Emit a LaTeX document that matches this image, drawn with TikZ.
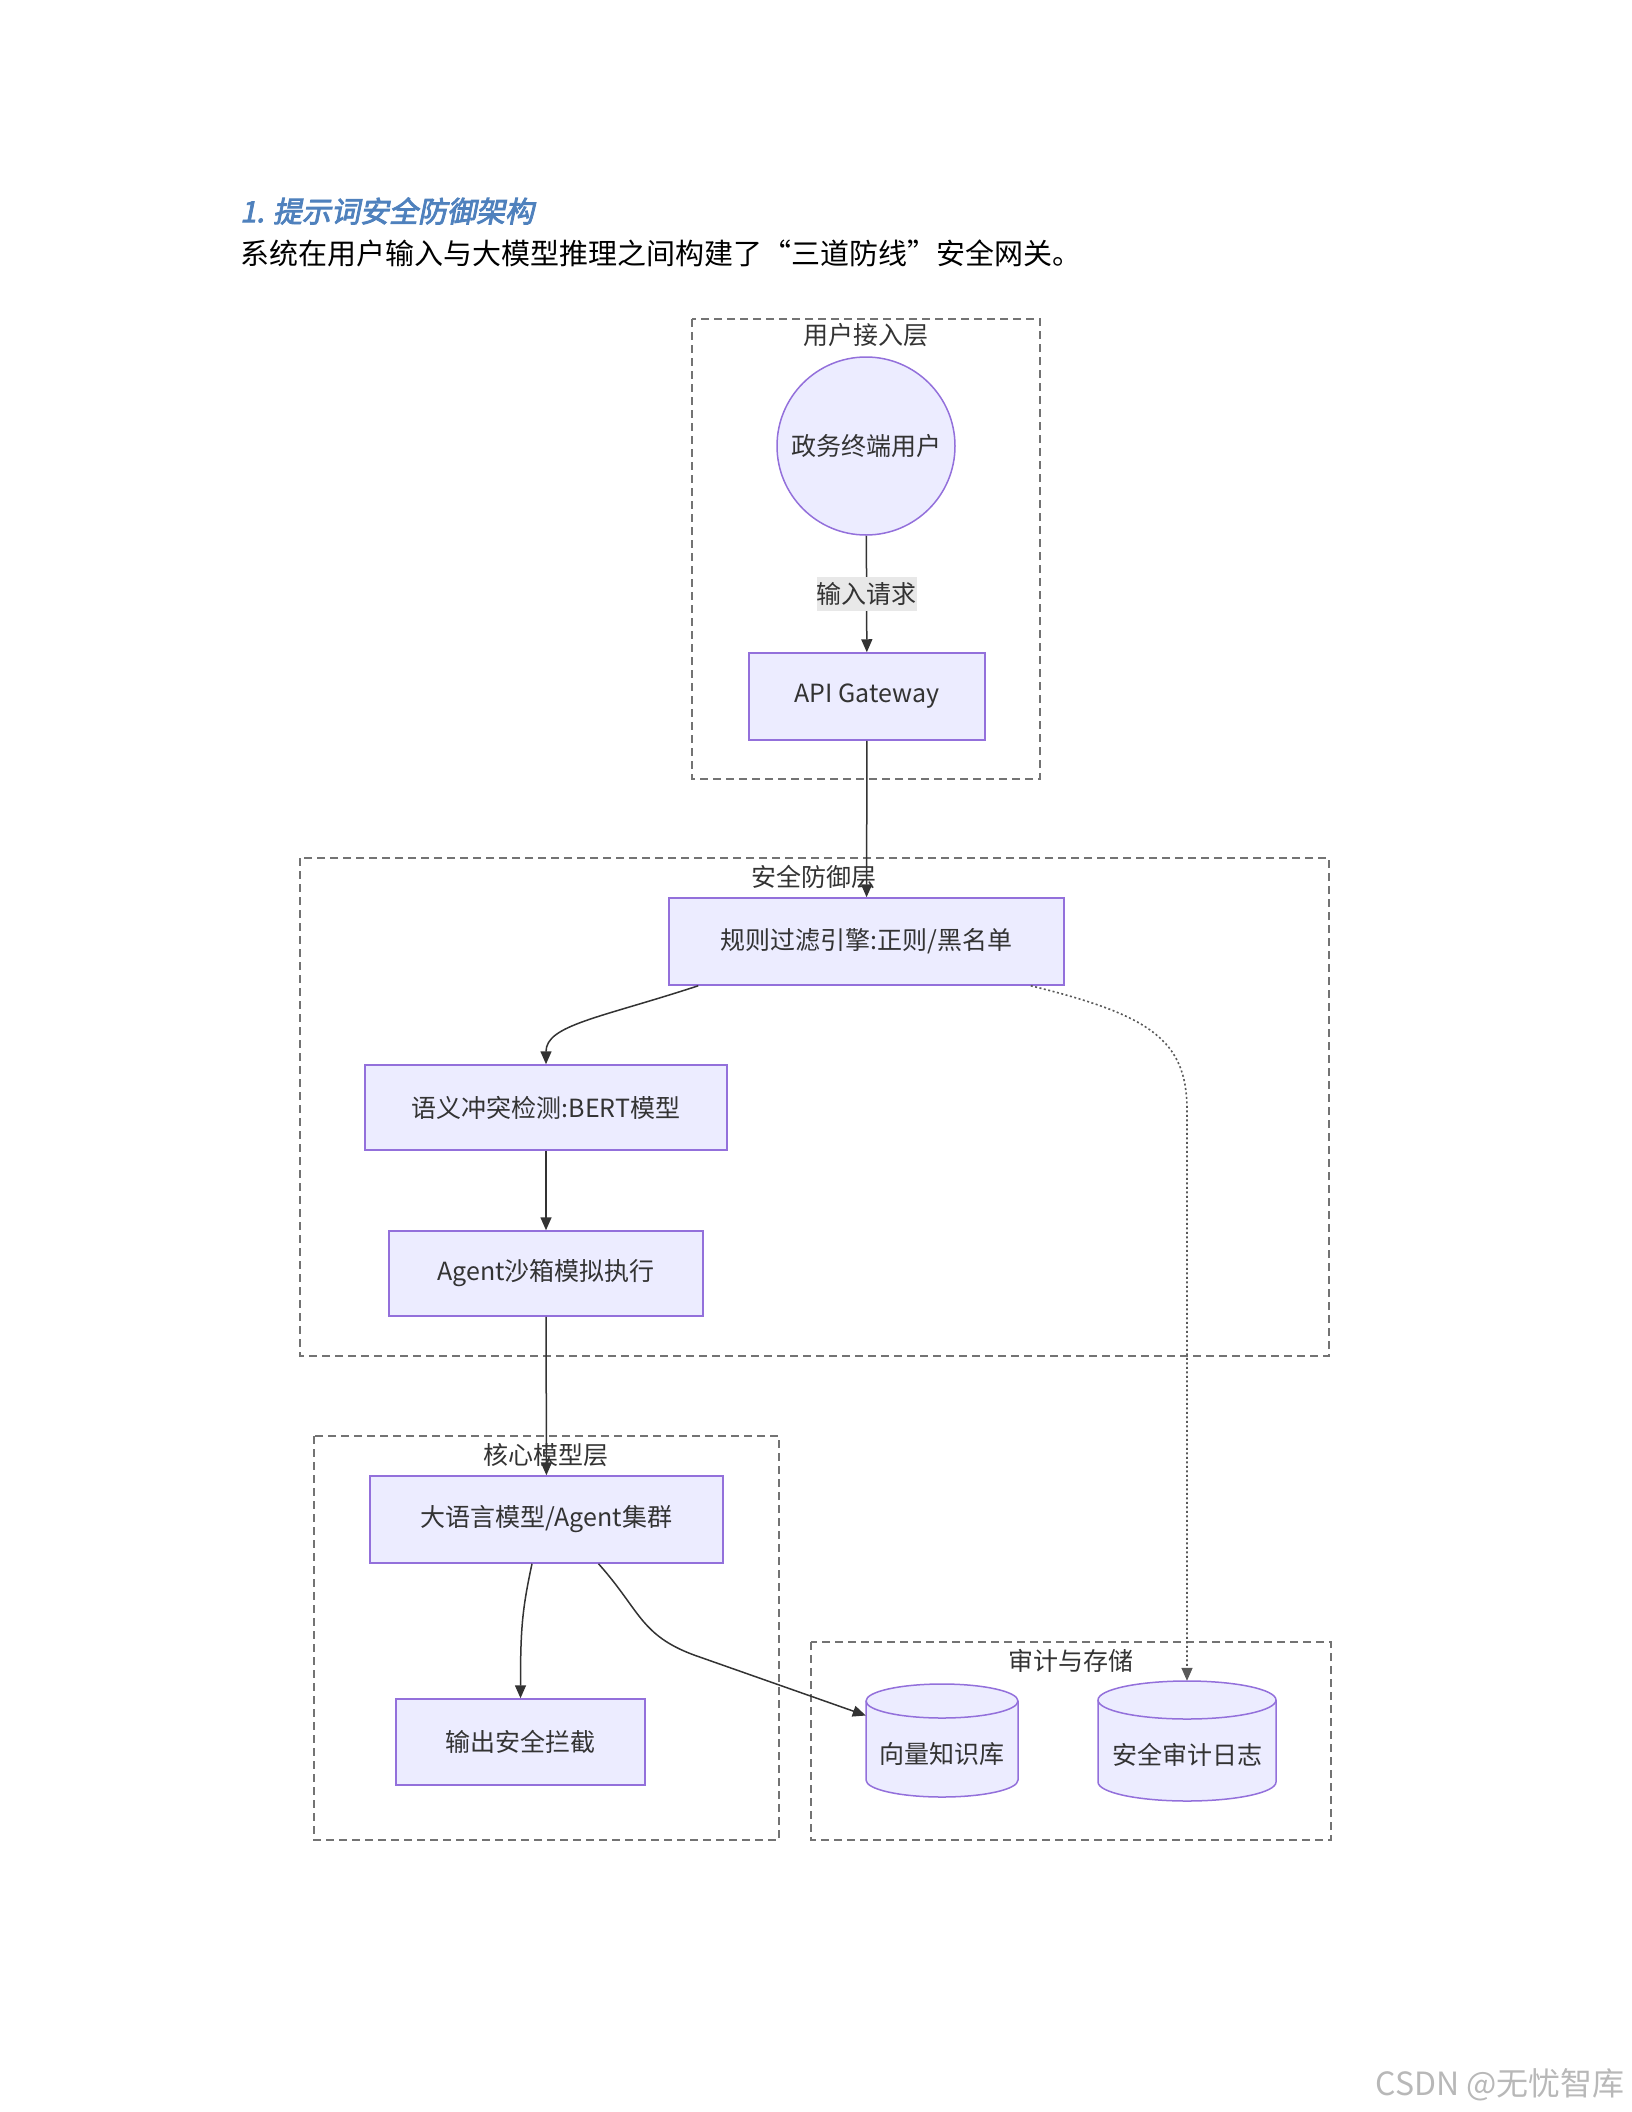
\documentclass[tikz,border=0pt]{standalone}
\usepackage{fontspec}
\setmainfont{Noto Sans CJK SC}
\newfontfamily\titlefont[FakeSlant=0.2,FakeBold=3]{Noto Sans CJK SC}
\usetikzlibrary{arrows.meta}
\definecolor{mfill}{HTML}{ECECFF}
\definecolor{mpurple}{HTML}{9370DB}
\definecolor{edgegray}{HTML}{333333}
\definecolor{lblbg}{HTML}{E8E8E8}
\definecolor{headblue}{HTML}{4F81BD}
\tikzset{
  % cylinder drawn inside the node box: width, height, half height of the cap
  db/.style n args={3}{rectangle, minimum width=#1, minimum height=#2, inner sep=0pt,
    text height=50pt, text depth=4pt,
    path picture={
      \draw[draw=mpurple, fill=mfill, line width=1.5pt]
        ([shift={(2pt,-#3-2pt)}]path picture bounding box.north west)
        -- ([shift={(2pt,#3+2pt)}]path picture bounding box.south west)
        arc[start angle=180, end angle=360, x radius=#1/2-2pt, y radius=#3]
        -- ([shift={(-2pt,-#3-2pt)}]path picture bounding box.north east)
        arc[start angle=0, end angle=180, x radius=#1/2-2pt, y radius=#3]
        -- cycle;
      \draw[draw=mpurple, line width=1.5pt]
        ([shift={(-2pt,-#3-2pt)}]path picture bounding box.north east)
        arc[start angle=360, end angle=180, x radius=#1/2-2pt, y radius=#3];
    }}}

\begin{document}
\begin{tikzpicture}[x=1pt,y=1pt,>={Triangle[length=13pt,width=11pt]}]
\tikzstyle{box}=[rectangle,draw=mpurple,fill=mfill,line width=1.5pt,minimum height=87pt,inner sep=0pt,text=edgegray,font=\fontsize{25pt}{30pt}\selectfont]
\tikzstyle{userNode}=[circle,draw=mpurple,fill=mfill,line width=1.5pt,minimum size=178pt,inner sep=0pt,text=edgegray,font=\fontsize{25pt}{30pt}\selectfont]
\tikzstyle{layer}=[inner sep=0pt,text=edgegray,font=\fontsize{25pt}{30pt}\selectfont]
\tikzstyle{cluster}=[draw=black!55,line width=2pt,dash pattern=on 8pt off 5pt]
\tikzstyle{edge}=[draw=edgegray,line width=1.5pt]
\tikzstyle{dotline}=[draw=black!65,line width=1.6pt,dash pattern=on 2pt off 2.5pt]
\tikzstyle{edgeLabel}=[fill=lblbg,inner xsep=0pt,inner ysep=5pt,text=edgegray,font=\fontsize{25pt}{30pt}\selectfont]

\useasboundingbox (0,0) rectangle (1632,-2112);

%heading.
\node[anchor=west,inner sep=0pt,text=headblue,font=\titlefont\fontsize{29pt}{34pt}\selectfont] (title) at (240,-211) {1. 提示词安全防御架构};
\node[anchor=west,inner sep=0pt,font=\fontsize{29pt}{34pt}\selectfont] (intro) at (240,-253) {系统在用户输入与大模型推理之间构建了“三道防线”安全网关。};

%layers.
\draw[cluster] (692,-319) rectangle (1040,-779);
\draw[cluster] (300,-858) rectangle (1329,-1356);
\draw[cluster] (314,-1436) rectangle (779,-1840);
\draw[cluster] (811,-1642) rectangle (1331,-1840);

\node[layer] (userLbl)  at (866,-335)  {用户接入层};
\node[layer] (guardLbl) at (814,-877)  {安全防御层};
\node[layer] (coreLbl)  at (546,-1455) {核心模型层};
\node[layer] (auditLbl) at (1071,-1661) {审计与存储};

%nodes.
\node[userNode] (user) at (866,-446) {政务终端用户};
\node[box,minimum width=236pt] (api)     at (867,-696.5)  {API Gateway};
\node[box,minimum width=395pt] (rule)    at (866.5,-941.5) {规则过滤引擎:正则/黑名单};
\node[box,minimum width=362pt,minimum height=85pt] (sem)     at (546,-1107.5) {语义冲突检测:BERT模型};
\node[box,minimum width=314pt,minimum height=85pt] (sandbox) at (546,-1273.5) {Agent沙箱模拟执行};
\node[box,minimum width=353pt] (llm)     at (546.5,-1519.5) {大语言模型/Agent集群};
\node[box,minimum width=249pt,minimum height=86pt] (out)     at (520.5,-1742) {输出安全拦截};
\node[db={156pt}{117pt}{17pt},text=edgegray,font=\fontsize{25pt}{30pt}\selectfont] (vecdb) at (942,-1740.5) {向量知识库};
\node[db={182pt}{124pt}{19pt},text=edgegray,font=\fontsize{25pt}{30pt}\selectfont] (logdb) at (1187,-1741) {安全审计日志};

%edges.
\draw[edge,->] (user) -- (api) node[midway,edgeLabel] {输入请求};
\draw[edge,->] (api) -- (rule);
\draw[edge,->] ([xshift=30pt]rule.south west) .. controls (600,-1018) and (546,-1025) .. (sem.north);
\draw[dotline,->] ([xshift=-34pt]rule.south east) .. controls (1150,-1015) and (1187,-1040) .. (1187,-1110) -- ([yshift=-2pt]logdb.north);
\draw[edge,->] (sem) -- (sandbox);
\draw[edge,->] (sandbox) -- (llm);
\draw[edge,->] ([xshift=-14.5pt]llm.south) .. controls (522,-1610) and (520.5,-1630) .. (out.north);
\draw[edge,->] ([xshift=52pt]llm.south) .. controls (640,-1610) and (640,-1635) .. (694,-1655) -- ([shift={(2pt,25pt)}]vecdb.west);

%watermark.
\node[anchor=east,inner sep=0pt,text=black!28,font=\fontsize{32pt}{36pt}\selectfont] (mark) at (1625,-2085) {CSDN @无忧智库};

\end{tikzpicture}
\end{document}
